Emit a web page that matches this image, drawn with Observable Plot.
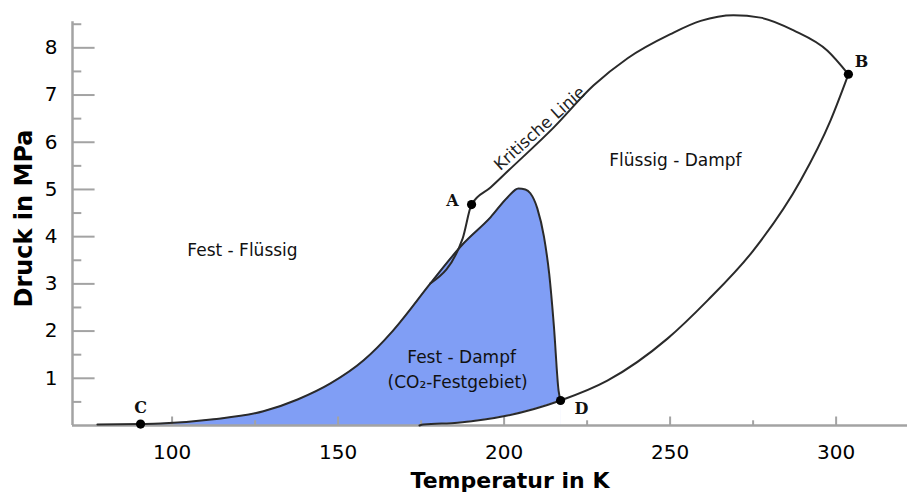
<!DOCTYPE html>
<html><head><meta charset="utf-8">
<script src="https://cdn.jsdelivr.net/npm/d3@7"></script>
<script src="https://cdn.jsdelivr.net/npm/@observablehq/plot@0.6"></script>
<style>body{margin:0;background:#fff}</style>
</head><body><div id="chart"></div>
<script>
// Left boundary of the solid–vapour region (baseline → C → peak → D)
const leftT = [77.5, 90.5, 96.5, 112.5, 127.5, 137.8, 147.7, 157.7, 165.8, 168.8, 177.8, 187.8, 195.9, 201.0, 204.3, 206.4, 207.9, 210.0, 212.0, 213.6, 215.0, 216.4, 217.0];
const leftP = [0.02, 0.03, 0.04, 0.13, 0.30, 0.55, 0.89, 1.38, 1.95, 2.20, 3.01, 3.86, 4.41, 4.83, 5.02, 5.00, 4.92, 4.60, 4.00, 3.20, 2.10, 0.74, 0.53];
// Sublimation curve (axis → D) and vapour-pressure curve (D → B)
const vapT = [174.5, 175.7, 186.0, 201.0, 217.0, 231.1, 249.2, 261.3, 275.1, 289.3, 298.3, 303.7];
const vapP = [0.0, 0.02, 0.06, 0.21, 0.53, 0.95, 1.84, 2.65, 3.71, 5.19, 6.46, 7.44];
// Critical line (from merge point, through A, up over the maximum to B)
const critT = [177.8, 187.5, 190.2, 195.9, 201.3, 214.9, 226.9, 237.2, 250.1, 259.2, 269.1, 277.2, 287.2, 297.4, 303.7];
const critP = [3.01, 3.96, 4.68, 5.04, 5.40, 6.31, 7.20, 7.78, 8.29, 8.57, 8.69, 8.64, 8.37, 7.94, 7.44];
// Named points
const pointNames = ["A", "B", "C", "D"];
const pointT = [190.2, 303.7, 90.5, 217.0];
const pointP = [4.68, 7.44, 0.03, 0.53];
// Region labels
const regionText = ["Fest - Flüssig", "Flüssig - Dampf", "Fest - Dampf", "(CO₂-Festgebiet)"];
const regionT = [121.2, 251.6, 187.2, 186.0];
const regionP = [3.71, 5.61, 1.44, 0.91];
const critLabel = {text: "Kritische Linie", T: 210.7, P: 6.29};
// Axes
const xDomain = [70, 321.5];
const yDomain = [0, 8.6];
const xMajor = [100, 150, 200, 250, 300];
const xMinor = [125, 175, 225, 275];
const yMajor = [1, 2, 3, 4, 5, 6, 7, 8];
const yMinor = [0.5, 1.5, 2.5, 3.5, 4.5, 5.5, 6.5, 7.5, 8.5];
const yAxisTop = 8.55;

const zip = (T, P) => T.map((t, i) => ({T: t, P: P[i]}));
const left = zip(leftT, leftP);
const vap = zip(vapT, vapP);
const crit = zip(critT, critP);
const points = pointNames.map((n, i) => ({name: n, T: pointT[i], P: pointP[i]}));
const regions = regionText.map((t, i) => ({text: t, T: regionT[i], P: regionP[i]}));

const axisGrey = "#a3a3a3";
const ink = "#2a2a2a";
const blue = "#809ef5";
const font = "DejaVu Sans";
const curve = "monotone-x";

const chart = Plot.plot({
  width: 907, height: 492,
  marginLeft: 72, marginRight: 0, marginTop: 19, marginBottom: 67,
  style: {fontFamily: font, fontSize: "20px", color: "#000", background: "#fff"},
  x: {domain: xDomain, axis: null},
  y: {domain: yDomain, axis: null},
  marks: [
    // blue solid–vapour region: under the left boundary, minus the area under the sublimation curve
    Plot.areaY(left.filter(d => d.T >= pointT[2]), {x: "T", y: "P", fill: blue, curve}),
    Plot.areaY(vap.filter(d => d.T <= pointT[3]), {x: "T", y: "P", fill: "#fff", curve}),
    // axis lines & ticks
    Plot.ruleY([0], {x1: xDomain[0], x2: xDomain[1], stroke: axisGrey, strokeWidth: 2.5}),
    Plot.ruleX([xDomain[0]], {y1: 0, y2: yAxisTop, stroke: axisGrey, strokeWidth: 2.5}),
    Plot.ruleX(xMajor, {x: d => d, y1: 0, y2: 0.18, stroke: axisGrey, strokeWidth: 2}),
    Plot.ruleX(xMinor, {x: d => d, y1: 0, y2: 0.1, stroke: axisGrey, strokeWidth: 2}),
    Plot.ruleY(yMajor, {y: d => d, x1: xDomain[0], x2: xDomain[0] + 6.8, stroke: axisGrey, strokeWidth: 2}),
    Plot.ruleY(yMinor, {y: d => d, x1: xDomain[0], x2: xDomain[0] + 2.8, stroke: axisGrey, strokeWidth: 2}),
    Plot.axisX(xMajor, {tickSize: 0, tickPadding: 19, label: null, fontSize: 20}),
    Plot.axisY(yMajor, {tickSize: 0, tickPadding: 15, label: null, fontSize: 20}),
    // curves
    Plot.line(left, {x: "T", y: "P", stroke: ink, strokeWidth: 2, curve}),
    Plot.line(vap, {x: "T", y: "P", stroke: ink, strokeWidth: 2, curve}),
    Plot.line(crit, {x: "T", y: "P", stroke: ink, strokeWidth: 2, curve}),
    Plot.dot(points, {x: "T", y: "P", r: 4.6, fill: "#000", stroke: "none"}),
    // point labels
    Plot.text(points.filter(d => d.name === "A"), {x: "T", y: "P", text: "name", dx: -19, dy: -4, fontFamily: "DejaVu Serif", fontWeight: "bold", fontSize: 16, fill: "#111"}),
    Plot.text(points.filter(d => d.name === "B"), {x: "T", y: "P", text: "name", dx: 13, dy: -12, fontFamily: "DejaVu Serif", fontWeight: "bold", fontSize: 16, fill: "#111"}),
    Plot.text(points.filter(d => d.name === "C"), {x: "T", y: "P", text: "name", dx: 0, dy: -16, fontFamily: "DejaVu Serif", fontWeight: "bold", fontSize: 16, fill: "#111"}),
    Plot.text(points.filter(d => d.name === "D"), {x: "T", y: "P", text: "name", dx: 21, dy: 8, fontFamily: "DejaVu Serif", fontWeight: "bold", fontSize: 16, fill: "#111"}),
    // region labels
    Plot.text(regions, {x: "T", y: "P", text: "text", fontSize: 17, letterSpacing: "1.1px", fill: "#111"}),
    Plot.text([critLabel], {x: "T", y: "P", text: "text", rotate: -42, fontSize: 16.5, letterSpacing: "0.5px", fill: "#222"}),
    // axis titles
    Plot.text(["Temperatur in K"], {frameAnchor: "bottom", text: d => d, dy: 55, dx: 20, lineAnchor: "middle", textAnchor: "middle", fontSize: 22, fontWeight: "bold", fill: "#000"}),
    Plot.text(["Druck in MPa"], {frameAnchor: "left", text: d => d, dx: -48, dy: -4, rotate: -90, textAnchor: "middle", lineAnchor: "middle", fontSize: 24, fontWeight: "bold", fill: "#000"})
  ]
});
document.getElementById("chart").appendChild(chart);
</script>
</body></html>
